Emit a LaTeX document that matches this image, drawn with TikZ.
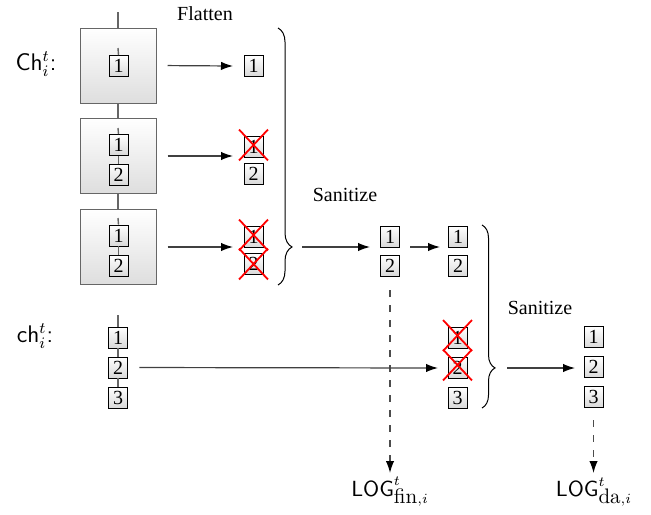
\documentclass[tikz,border=0pt]{standalone}
\usepackage[no-math]{fontspec}
\setmainfont{Liberation Serif}
\usetikzlibrary{arrows.meta,decorations.pathreplacing,shapes.misc,calc}
\newcommand{\cmrm}[1]{\mbox{\fontfamily{lmr}\selectfont #1}}
\begin{document}
\begin{tikzpicture}[x=0.5pt,y=0.5pt,
 bigbox/.style={draw=black!60, line width=0.5pt, top color=white, bottom color=black!13, minimum width=38pt, minimum height=37.5pt, inner sep=0},
 num/.style={draw=black, line width=0.45pt, top color=white, bottom color=black!15, minimum width=9.5pt, minimum height=10.5pt, inner sep=0, font=\fontsize{10}{12}\selectfont},
 link/.style={draw=black!60, line width=0.7pt},
 arr/.style={draw=black!75, line width=0.6pt, -{Latex[length=6pt,width=4.2pt,black]}},
 dasharr/.style={draw=black!70, line width=0.65pt, dash pattern=on 3.5pt off 4pt, -{Latex[length=6pt,width=4.2pt,black]}},
 xout/.style={draw=red, line width=0.9pt, cross out, minimum width=13.5pt, minimum height=14.5pt, inner sep=0},
 brc/.style={decorate, draw=black, line width=0.5pt},
 lbl/.style={font=\fontsize{10}{12}\selectfont},
 chlbl/.style={font=\fontsize{12}{14}\selectfont},
 loglbl/.style={font=\fontsize{10.5}{12}\selectfont}
]
\useasboundingbox (0,0) rectangle (651,-514);

% ---- Ch chain
\coordinate (top) at (118,-12);
\node[bigbox] (B1) at (118,-65.5) {};
\node[bigbox] (B2) at (118,-156) {};
\node[bigbox] (B3) at (118,-247) {};
\draw[link] (top) -- (B1.north);
\draw[link] (B1.south) -- (B2.north);
\draw[link] (B2.south) -- (B3.north);

\coordinate (s1) at (118,-48);
\node[num] (a1) at (118.5,-66) {1};
\draw[link] (s1) -- (a1.north);

\coordinate (s2) at (118,-128);
\node[num] (b1) at (118.5,-145) {1};
\node[num] (b2) at (118.5,-175) {2};
\draw[link] (s2) -- (b1.north);
\draw[link] (b1.south) -- (b2.north);

\coordinate (s3) at (118,-218);
\node[num] (c1) at (118.5,-235.5) {1};
\node[num] (c2) at (118.5,-266) {2};
\draw[link] (s3) -- (c1.north);
\draw[link] (c1.south) -- (c2.north);

\node[chlbl] (chl) at (36,-64) {\textsf{Ch}$_i^t$\textsf{:}};

% ---- Flatten
\node[lbl] (flat) at (205,-14) {Flatten};
\node[num] (f1) at (253.5,-66) {1};
\node[num] (f21) at (253.5,-147) {1};
\node[num] (f22) at (253.5,-174) {2};
\node[num] (f31) at (253.5,-237) {1};
\node[num] (f32) at (253.5,-264) {2};
\node[xout] (x21) at (253.5,-145) {};
\node[xout] (x31) at (253.5,-235) {};
\node[xout] (x32) at (253.5,-264) {};

\coordinate (e1) at (233,-66);
\coordinate (e2) at (233,-156);
\coordinate (e3) at (233,-247);
\draw[arr, shorten <=5.5pt] (B1.east) -- (e1);
\draw[arr, shorten <=5.5pt] (B2.east) -- (e2);
\draw[arr, shorten <=5.5pt] (B3.east) -- (e3);

\coordinate (br1a) at (278,-28);
\coordinate (br1b) at (278,-285);
\draw[brc, decoration={brace, amplitude=7pt, aspect=0.852}] (br1a) -- (br1b);

% ---- Sanitize 1
\node[lbl] (san1) at (345,-195) {Sanitize};
\coordinate (p1) at (302,-247);
\coordinate (p2) at (370,-247);
\draw[arr] (p1) -- (p2);
\node[num] (k1) at (390,-236.5) {1};
\node[num] (k2) at (390,-266) {2};
\coordinate (p3) at (410,-247);
\coordinate (p4) at (440,-247);
\draw[arr] (p3) -- (p4);
\node[num] (m1) at (458,-236.5) {1};
\node[num] (m2) at (458,-266) {2};

% ---- ch chain
\node[chlbl] (chs) at (35,-336) {\textsf{ch}$_i^t$\textsf{:}};
\coordinate (st) at (118,-315);
\node[num] (g1) at (118,-337.5) {1};
\node[num] (g2) at (118,-367.5) {2};
\node[num] (g3) at (118,-397.5) {3};
\draw[link] (st) -- (g1.north);
\draw[link] (g1.south) -- (g2.north);
\draw[link] (g2.south) -- (g3.north);

\node[num] (h1) at (457.5,-338) {1};
\node[num] (h2) at (457.5,-368) {2};
\node[num] (h3) at (457.5,-397.5) {3};
\node[xout] (y1) at (457.5,-335.5) {};
\node[xout] (y2) at (457.5,-365) {};

% dashed to LOG fin
\node[loglbl] (logf) at (390,-492) {$\mathsf{LOG}^t_{\cmrm{fin},i}$};
\coordinate (d1) at (390,-290);
\coordinate (d2) at (390,-473);
\draw[dasharr] (d1) -- (d2);

\coordinate (q2) at (438,-368);
\draw[arr, shorten <=5.75pt] (g2.east) -- (q2);

% ---- Sanitize 2
\coordinate (br2a) at (482,-225);
\coordinate (br2b) at (482,-408);
\draw[brc, decoration={brace, amplitude=6.5pt, aspect=0.781}] (br2a) -- (br2b);
\node[lbl] (san2) at (540,-308) {Sanitize};
\coordinate (u1) at (507,-368);
\coordinate (u2) at (575,-368);
\draw[arr] (u1) -- (u2);
\node[num] (n1) at (593.5,-337) {1};
\node[num] (n2) at (593.5,-367) {2};
\node[num] (n3) at (593.5,-397) {3};

\node[loglbl] (logd) at (594,-492) {$\mathsf{LOG}^t_{\cmrm{da},i}$};
\coordinate (v1) at (593.5,-420);
\coordinate (v2) at (593.5,-473);
\draw[dasharr] (v1) -- (v2);
\end{tikzpicture}
\end{document}
